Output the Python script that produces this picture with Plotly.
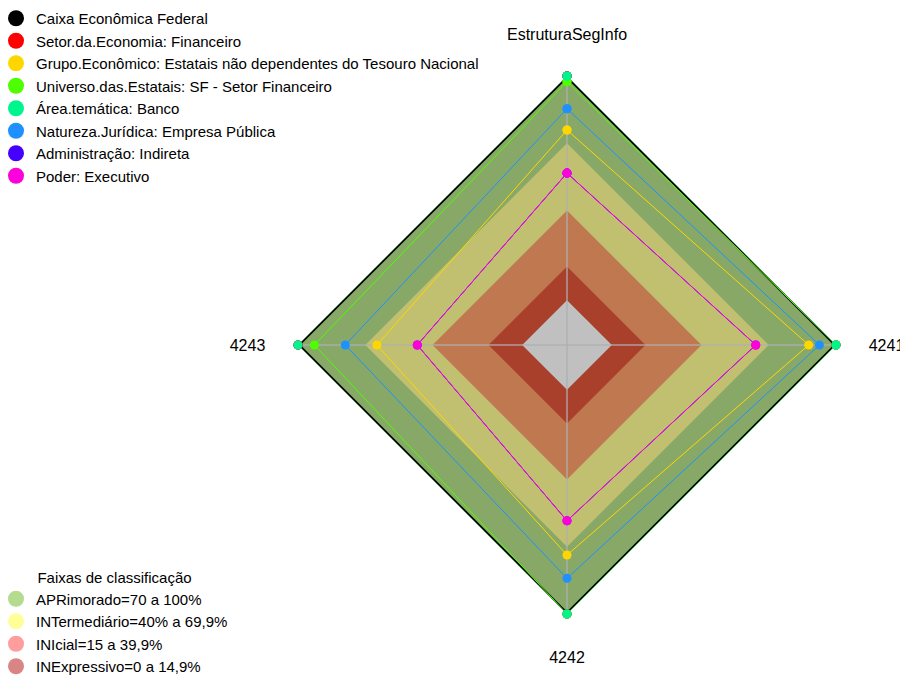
import plotly.graph_objects as go

# axes of the radar (clockwise from the top)
categories = ["EstruturaSegInfo", "4241", "4242", "4243"]

# series (values in %)
series_names = [
    "Caixa Econômica Federal",
    "Setor.da.Economia: Financeiro",
    "Grupo.Econômico: Estatais não dependentes do Tesouro Nacional",
    "Universo.das.Estatais: SF - Setor Financeiro",
    "Área.temática: Banco",
    "Natureza.Jurídica: Empresa Pública",
    "Administração: Indireta",
    "Poder: Executivo",
]
caixa = [100, 100, 100, 100]
setor_economia = [100, 100, 100, 100]
grupo_economico = [75.9, 87.8, 73.7, 64.8]
universo_estatais = [97.5, 100, 100, 92.7]
area_tematica = [100, 100, 100, 100]
natureza_juridica = [85.4, 92.6, 84.1, 78.9]
administracao = [56.7, 64.2, 58.4, 46.8]
poder = [56.7, 64.2, 58.4, 46.8]
series_values = [caixa, setor_economia, grupo_economico, universo_estatais,
                 area_tematica, natureza_juridica, administracao, poder]
series_colors = ["#000000", "#FF0000", "#FFD700", "#4DFF00",
                 "#00F58C", "#1E90FF", "#4600FF", "#FF00DC"]

# classification bands
band_names = ["APRimorado=70 a 100%", "INTermediário=40% a 69,9%",
              "INIcial=15 a 39,9%", "INExpressivo=0 a 14,9%"]
band_upper = [100, 70, 40, 15]
band_fill = ["#88A868", "#C0C070", "#C07850", "#A8402C"]
band_legend = ["#B3DC8E", "#FFFF99", "#FF9C9C", "#D98585"]

r_min = -20  # radar centre offset (value 0 sits at one sixth of the radius)
FONT = dict(family="Liberation Sans, Arial, sans-serif", size=15, color="#000000")
TICK_FONT = dict(family="Liberation Sans, Arial, sans-serif", size=16, color="#000000")

# page body adds an 8px margin, so the figure is 8px smaller than the window
W, H = 900, 672

theta_closed = categories + categories[:1]

fig = go.Figure()

# background bands, drawn from the largest to the smallest
for upper, fill in zip(band_upper, band_fill):
    fig.add_trace(go.Scatterpolar(
        r=[upper] * (len(categories) + 1), theta=theta_closed,
        mode="lines", line=dict(width=0, color=fill),
        fill="toself", fillcolor=fill, showlegend=False, hoverinfo="skip"))

# grey centre (below zero)
fig.add_trace(go.Scatterpolar(
    r=[0] * (len(categories) + 1), theta=theta_closed,
    mode="lines", line=dict(width=0, color="#C0C0C0"),
    fill="toself", fillcolor="#C0C0C0", showlegend=False, hoverinfo="skip"))

# spokes
spoke_r, spoke_t = [], []
for c in categories:
    spoke_r += [r_min, 100, None]
    spoke_t += [c, c, c]
fig.add_trace(go.Scatterpolar(
    r=spoke_r, theta=spoke_t, mode="lines",
    line=dict(color="rgba(175,175,175,0.85)", width=1.5),
    showlegend=False, hoverinfo="skip"))

# series
for name, vals, col in zip(series_names, series_values, series_colors):
    fig.add_trace(go.Scatterpolar(
        r=vals + vals[:1], theta=theta_closed, mode="lines+markers",
        name=name, legendgroup=name,
        line=dict(color=col, width=3.5 if name == series_names[0] else 1),
        marker=dict(color=col, size=9),
        showlegend=False))

# legend entries
for name, col in zip(series_names, series_colors):
    fig.add_trace(go.Scatterpolar(
        r=[None], theta=[categories[0]], mode="markers", name=name,
        legendgroup=name, marker=dict(color=col, size=16), legend="legend"))

for name, col in zip(band_names, band_legend):
    fig.add_trace(go.Scatterpolar(
        r=[None], theta=[categories[0]], mode="markers", name=name,
        marker=dict(color=col, size=16), legend="legend2"))

fig.update_layout(
    width=W, height=H,
    margin=dict(l=0, r=0, t=0, b=0, autoexpand=False),
    paper_bgcolor="white",
    font=FONT,
    polar=dict(
        domain=dict(x=[290 / W, 828 / W], y=[66 / H, 604 / H]),
        bgcolor="white",
        gridshape="linear",
        radialaxis=dict(range=[r_min, 100], showgrid=False, showline=False,
                        showticklabels=False, ticks=""),
        angularaxis=dict(direction="clockwise", rotation=90,
                         showgrid=False, showline=False,
                         ticks="outside", ticklen=29,
                         tickcolor="rgba(0,0,0,0)",
                         tickfont=TICK_FONT),
    ),
    legend=dict(x=-12 / W, y=1 + 6 / H, xanchor="left", yanchor="top",
                bgcolor="rgba(0,0,0,0)", font=FONT, tracegroupgap=0),
    legend2=dict(x=-12 / W, y=-3 / H, xanchor="left", yanchor="bottom",
                 bgcolor="rgba(0,0,0,0)", font=FONT,
                 title=dict(text="Faixas de classificação", side="top center",
                            font=FONT)),
)

fig.write_html("out.html")
